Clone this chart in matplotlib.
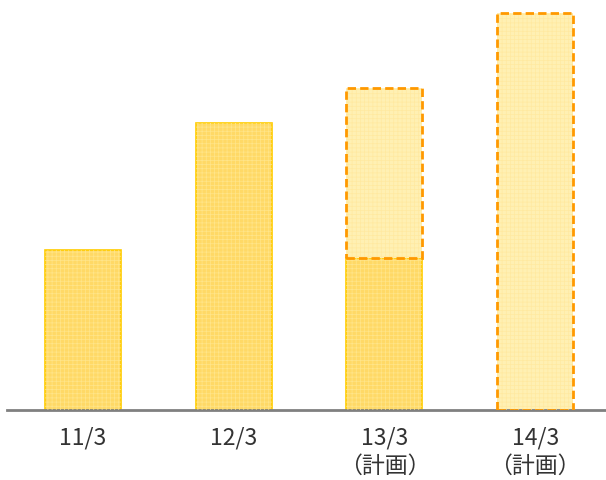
import numpy as np
import matplotlib.pyplot as plt

plt.rcParams['font.family'] = ['Noto Sans CJK JP', 'DejaVu Sans']
plt.rcParams['hatch.linewidth'] = 0.5

labels = ['11/3', '12/3', '13/3\n（計画）', '14/3\n（計画）']
actual = [160, 287, 152, 0]
plan = [0, 0, 170, 397]

x = np.arange(len(labels))
w = 0.504

fig = plt.figure(figsize=(6.06, 4.8), dpi=100)
ax = fig.add_axes([7 / 606, 1 - 410 / 480, 599 / 606, 410 / 480])

# actual bars (solid yellow)
ax.bar(x[:3], actual[:3], width=w, color='#FFD966', edgecolor='#FFCC00', linewidth=1.2, zorder=2)
ax.bar(x[:3], actual[:3], width=w, color='none', edgecolor='#FFE58A', hatch='++++', linewidth=0, zorder=3)

# plan bars (dashed, light)
ax.bar(x[2:], plan[2:], bottom=actual[2:], width=w, color='#FFF0B3', linewidth=0, zorder=2)
ax.bar(x[2:], plan[2:], bottom=actual[2:], width=w, color='none', edgecolor='#FFE9A0',
       hatch='++++', linewidth=0, zorder=3)
ax.bar(x[2:], plan[2:], bottom=actual[2:], width=w, color='none', edgecolor='#FF9900',
       linewidth=2, linestyle=(0, (3, 1.5)), zorder=4)

ax.set_xlim(-0.504, 3.47)
ax.set_ylim(0, 410)
ax.set_xticks(x)
ax.set_xticklabels(labels, fontsize=16.5, color='#333333', linespacing=1.3)
ax.tick_params(axis='x', length=0, pad=12)
ax.set_yticks([])
for s in ['top', 'right', 'left']:
    ax.spines[s].set_visible(False)
ax.spines['bottom'].set_color('#808080')
ax.spines['bottom'].set_linewidth(2)

fig.savefig('out.png', dpi=100)
